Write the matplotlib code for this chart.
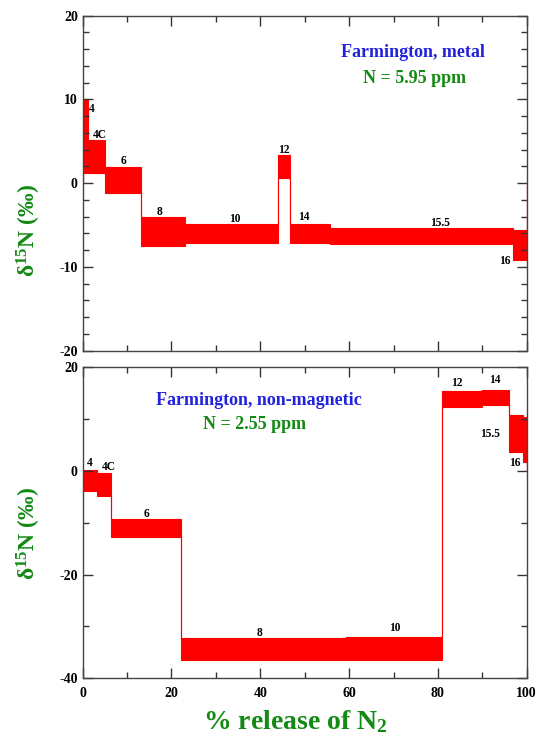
import numpy as np
import matplotlib
matplotlib.use("Agg")
import matplotlib.pyplot as plt
from matplotlib.ticker import MultipleLocator

# ---------------- data ----------------
top_edges = [0, 1.27, 4.95, 13.06, 23.0, 44.06, 46.7, 55.7, 96.8, 100]
top_upper = [10.0, 5.2, 1.95, -4.0, -4.9, 3.35, -4.9, -5.4, -5.65]
top_lower = [1.25, 1.25, -1.2, -7.5, -7.1, 0.65, -7.1, -7.25, -9.2]
top_labels = ['4', '4C', '6', '8', '10', '12', '14', '15.5', '16']

bot_edges = [0, 3.15, 6.37, 22.07, 59.2, 80.85, 90.0, 96.1, 99.2, 100]
bot_upper = [0.2, -0.45, -9.3, -32.3, -32.0, 15.5, 15.6, 10.8, 10.5]
bot_lower = [-3.9, -4.8, -12.7, -36.4, -36.5, 12.4, 12.7, 3.6, 1.8]
bot_labels = ['4', '4C', '6', '8', '10', '12', '14', '15.5', '16']

# label anchor positions (text centres)
top_label_xy = [(2.0, 8.8), (3.8, 5.7), (9.3, 2.7), (17.3, -3.4), (34.3, -4.25),
                (45.3, 3.95), (49.7, -4.0), (80.5, -4.7), (95.0, -9.3)]
bot_label_xy = [(1.5, 1.5), (5.8, 0.8), (14.4, -8.3), (39.8, -31.2), (70.3, -30.2),
                (84.2, 16.9), (92.9, 17.6), (91.7, 7.1), (97.4, 1.5)]

SERIF = ['Liberation Serif', 'DejaVu Serif']
GREEN = '#138a13'
BLUE = '#2222dd'
RED = '#ff0000'

plt.rcParams['font.family'] = SERIF
plt.rcParams['font.weight'] = 'bold'
plt.rcParams['axes.unicode_minus'] = False
plt.rcParams['mathtext.fontset'] = 'custom'
plt.rcParams['mathtext.rm'] = 'Liberation Serif:bold'
plt.rcParams['mathtext.bf'] = 'Liberation Serif:bold'
plt.rcParams['mathtext.it'] = 'Liberation Serif:bold'
plt.rcParams['mathtext.default'] = 'bf'

W, H = 539, 735
fig = plt.figure(figsize=(W / 100, H / 100), dpi=100)
ax1 = fig.add_axes([0.1534, 0.5229, 0.8238, 0.4558])
ax2 = fig.add_axes([0.1534, 0.0771, 0.8238, 0.4232])


def draw(ax, edges, upper, lower, labels, label_xy):
    ax.stairs(upper, edges, baseline=lower, fill=True, color=RED, lw=0)
    ax.stairs(upper, edges, color=RED, lw=0.8)
    ax.stairs(lower, edges, color=RED, lw=0.8)
    for lab, (x, y) in zip(labels, label_xy):
        ax.text(x, y, lab, ha='center', va='center', fontsize=8.3,
                fontweight='bold', color='black')


def style(ax, ymaj, ymin, show_x):
    ax.set_xlim(0, 100)
    ax.xaxis.set_major_locator(MultipleLocator(20))
    ax.xaxis.set_minor_locator(MultipleLocator(10))
    ax.yaxis.set_major_locator(MultipleLocator(ymaj))
    ax.yaxis.set_minor_locator(MultipleLocator(ymin))
    ax.tick_params(which='both', direction='in', top=True, right=True,
                   colors='#333333', labelcolor='black', labelsize=10)
    ax.tick_params(which='major', length=7, width=1)
    ax.tick_params(which='minor', length=4, width=1)
    ax.tick_params(axis='x', pad=6)
    if not show_x:
        ax.tick_params(labelbottom=False)
    for s in ax.spines.values():
        s.set_color('#444444')
        s.set_linewidth(1.0)
    for lab in ax.get_xticklabels() + ax.get_yticklabels():
        lab.set_fontweight('bold')


YLABEL = r'$\delta^{15}$N (‰)'

# top panel
draw(ax1, top_edges, top_upper, top_lower, top_labels, top_label_xy)
ax1.set_ylim(-20, 20)
style(ax1, 10, 2, False)
ax1.text(74.3, 15.6, 'Farmington, metal', color=BLUE, fontsize=13,
         fontweight='bold', ha='center', va='center')
ax1.text(74.8, 12.5, 'N = 5.95 ppm', color=GREEN, fontsize=13,
         fontweight='bold', ha='center', va='center')
fig.text(29 / W, 1 - 231 / H, YLABEL, color=GREEN, fontsize=17,
         fontweight='bold', rotation=90, ha='center', va='center')

# bottom panel
draw(ax2, bot_edges, bot_upper, bot_lower, bot_labels, bot_label_xy)
ax2.set_ylim(-40, 20)
style(ax2, 20, 10, True)
ax2.text(39.7, 13.6, 'Farmington, non-magnetic', color=BLUE, fontsize=13,
         fontweight='bold', ha='center', va='center')
ax2.text(38.8, 8.9, 'N = 2.55 ppm', color=GREEN, fontsize=13,
         fontweight='bold', ha='center', va='center')
fig.text(29 / W, 1 - 534 / H, YLABEL, color=GREEN, fontsize=17,
         fontweight='bold', rotation=90, ha='center', va='center')
fig.text(295 / W, 1 - 729 / H, r'% release of N$_2$', color=GREEN,
         fontsize=20, fontweight='bold', ha='center', va='baseline')

fig.savefig('out.png', dpi=100)
